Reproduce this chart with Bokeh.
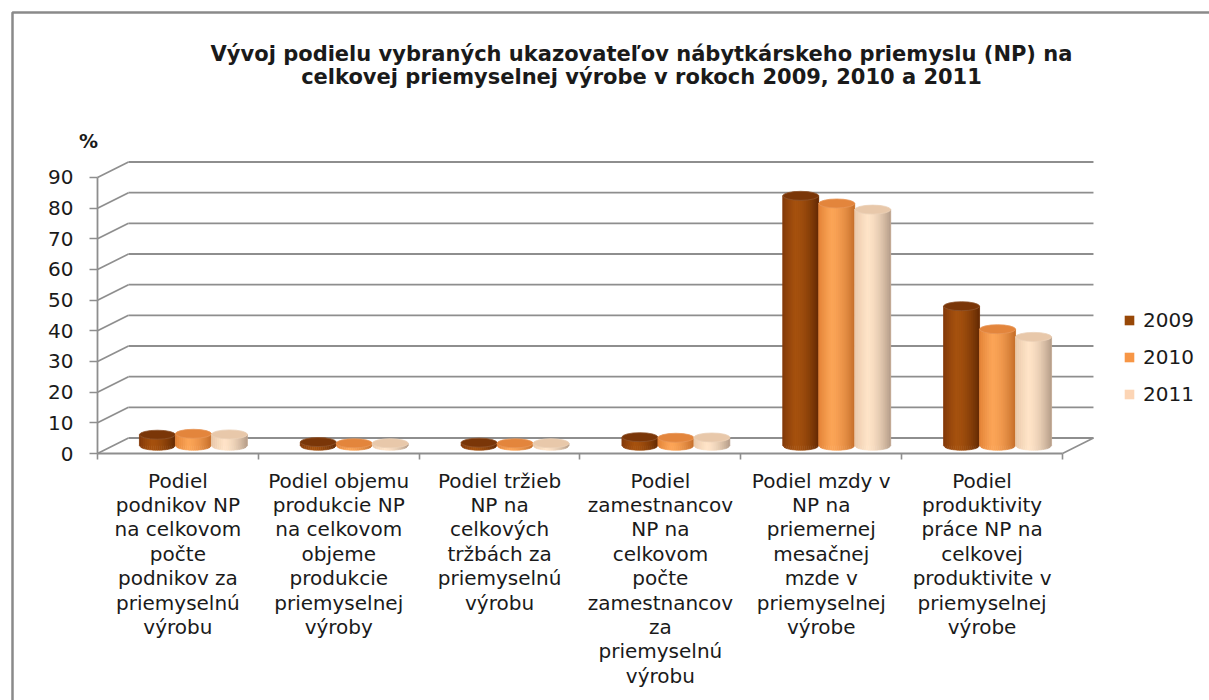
import numpy as np
from bokeh.plotting import figure
from bokeh.models import (Range1d, FixedTicker, LinearAxis, Legend, LegendItem,
                          ColumnDataSource)
from bokeh.core.properties import value
from bokeh.embed import file_html
from bokeh.resources import INLINE

# ---------------- data ----------------
categories = [
    "Podiel\npodnikov NP\nna celkovom\npočte\npodnikov za\npriemyselnú\nvýrobu",
    "Podiel objemu\nprodukcie NP\nna celkovom\nobjeme\nprodukcie\npriemyselnej\nvýroby",
    "Podiel tržieb\nNP na\ncelkových\ntržbách za\npriemyselnú\nvýrobu",
    "Podiel\nzamestnancov\nNP na\ncelkovom\npočte\nzamestnancov\nza\npriemyselnú\nvýrobu",
    "Podiel mzdy v\nNP na\npriemernej\nmesačnej\nmzde v\npriemyselnej\nvýrobe",
    "Podiel\nproduktivity\npráce NP na\ncelkovej\nproduktivite v\npriemyselnej\nvýrobe",
]
years = ["2009", "2010", "2011"]
values_2009 = [3.6, 1.2, 1.0, 2.8, 81.5, 45.5]
values_2010 = [3.9, 0.8, 0.8, 2.6, 79.0, 38.0]
values_2011 = [3.7, 0.8, 0.8, 2.7, 77.0, 35.5]
y_ticks = [0, 10, 20, 30, 40, 50, 60, 70, 80, 90]
title_lines = ["Vývoj podielu vybraných ukazovateľov nábytkárskeho priemyslu (NP) na",
               "celkovej priemyselnej výrobe v rokoch 2009, 2010 a 2011"]
unit_label = "%"

series = [values_2009, values_2010, values_2011]
legend_colors = ["#984807", "#F79646", "#FCD5B5"]
shade = [  # left edge, highlight, right edge, top face
    ("#80380A", "#A6520F", "#632904", "#7A3608"),
    ("#E08034", "#FCA558", "#C46E2A", "#E3853C"),
    ("#E6C6A8", "#FFE4C8", "#B49C88", "#E8C8AA"),
]

# ---------------- geometry (layout constants) ----------------
W, H = 1209, 700
PX_X = 160.83          # px per category
PX_Y = 3.0667          # px per value unit
ORIGIN_X = 97          # frame px of the front-left corner
ORIGIN_Y = 453         # frame px (from top) of value 0 on the front plane
x_start = -ORIGIN_X / PX_X
x_end = x_start + W / PX_X
y_end = ORIGIN_Y / PX_Y
y_start = y_end - H / PX_Y


def fx(px):
    return x_start + px / PX_X


def fy(py):
    return y_end - py / PX_Y


DX = 31 / PX_X         # depth offset of back wall
DY = 15.5 / PX_Y
BW = 36 / PX_X         # cylinder width
EB = 4.5 / PX_Y        # ellipse semi-height
ncat = len(categories)
FONT = value("DejaVu Sans")
GRID = "#8e8e8e"
TXT = "#1a1a1a"

p = figure(width=W, height=H, output_backend="svg", toolbar_location=None,
           x_range=Range1d(x_start, x_end), y_range=Range1d(y_start, y_end),
           x_axis_type=None, y_axis_type=None, min_border=0,
           min_border_left=0, min_border_right=0, min_border_top=0, min_border_bottom=0)
p.grid.visible = False
p.outline_line_color = None
p.background_fill_color = "white"
p.border_fill_color = "white"

# chart border (left & top)
p.line([fx(12), fx(12), x_end], [y_start, fy(12), fy(12)], line_color="#8a8a8a", line_width=2.5)

# back wall gridlines and left wall diagonals
p.segment(x0=[DX] * len(y_ticks), y0=[t + DY for t in y_ticks],
          x1=[ncat + DX] * len(y_ticks), y1=[t + DY for t in y_ticks],
          line_color=GRID, line_width=1.8)
p.segment(x0=[0] * len(y_ticks), y0=y_ticks, x1=[DX] * len(y_ticks),
          y1=[t + DY for t in y_ticks], line_color=GRID, line_width=1.6)
# floor right edge
p.segment(x0=[ncat], y0=[0], x1=[ncat + DX], y1=[DY], line_color=GRID, line_width=1.6)


def h2r(h):
    h = h.lstrip("#")
    return np.array([int(h[i:i + 2], 16) for i in (0, 2, 4)], dtype=float)


def mix(a, b, s):
    c = h2r(a) * (1 - s) + h2r(b) * s
    return "#%02x%02x%02x" % tuple(int(round(v)) for v in c)


def strip_color(t, left, hi, right):
    if t < 0.35:
        s = (t / 0.35) ** 0.8
        return mix(left, hi, s)
    s = ((t - 0.35) / 0.65) ** 1.7
    return mix(hi, right, s)


NS = 18
legend_items = []
for k, vals in enumerate(series):
    left, hi, right, topc = shade[k]
    cx = [i + 0.5 + DX / 2 + (k - 1) * BW for i in range(ncat)]
    base = DY / 2
    tops = [v + DY / 2 for v in vals]
    # flat body (legend colour), covered by shaded strips
    r = p.quad(left=[c - BW / 2 for c in cx], right=[c + BW / 2 for c in cx],
               bottom=[base] * ncat, top=tops, fill_color=legend_colors[k], line_color=None)
    legend_items.append(LegendItem(label=years[k], renderers=[r]))
    xs, ys, cols = [], [], []
    for c, tp in zip(cx, tops):
        for j in range(NS):
            u0 = -1 + 2 * j / NS
            u1 = -1 + 2 * (j + 1) / NS
            x0 = c + u0 * BW / 2
            x1 = c + u1 * BW / 2
            yb0 = base - EB * np.sqrt(max(0.0, 1 - u0 * u0))
            yb1 = base - EB * np.sqrt(max(0.0, 1 - u1 * u1))
            xs.append([x0, x1, x1, x0])
            ys.append([yb0, yb1, tp, tp])
            cols.append(strip_color((j + 0.5) / NS, left, hi, right))
    src = ColumnDataSource(dict(xs=xs, ys=ys, c=cols))
    p.patches("xs", "ys", source=src, fill_color="c", line_color="c", line_width=0.6)
    p.ellipse(x=cx, y=tops, width=BW, height=2 * EB, fill_color=topc,
              line_color=mix(topc, "#ffffff", 0.15), line_width=0.8)

# axes
yax = LinearAxis(fixed_location=0, bounds=(0, 90), ticker=FixedTicker(ticks=y_ticks))
yax.axis_line_color = GRID
yax.axis_line_width = 1.8
yax.major_tick_line_color = GRID
yax.major_tick_line_width = 1.6
yax.major_tick_out = 8
yax.major_tick_in = 0
yax.minor_tick_out = 0
yax.minor_tick_in = 0
yax.major_label_standoff = 16
yax.major_label_text_font = "DejaVu Sans"
yax.major_label_text_font_size = "20px"
yax.major_label_text_color = TXT
p.add_layout(yax, "left")

xax = LinearAxis(fixed_location=0, bounds=(0, ncat), ticker=FixedTicker(ticks=list(range(ncat + 1))))
xax.axis_line_color = GRID
xax.axis_line_width = 1.8
xax.major_tick_line_color = GRID
xax.major_tick_line_width = 1.6
xax.major_tick_out = 6
xax.major_tick_in = 0
xax.minor_tick_out = 0
xax.minor_tick_in = 0
xax.major_label_text_color = None
p.add_layout(xax, "below")

# category labels
p.text(x=[i + 0.5 for i in range(ncat)], y=[-15 / PX_Y] * ncat, text=categories,
       text_align="center", text_baseline="top", text_font=FONT, text_font_size="20px",
       text_line_height=1.017, text_color=TXT)

# title
p.text(x=[fx(641)] * 2, y=[fy(53), fy(76)], text=title_lines, text_align="center",
       text_baseline="alphabetic", text_font=FONT, text_font_style="bold",
       text_font_size="21px", text_color=TXT)
# unit
p.text(x=[fx(88)], y=[fy(140)], text=[unit_label], text_align="center",
       text_baseline="alphabetic", text_font=FONT, text_font_style="bold",
       text_font_size="19px", text_color=TXT)

legend = Legend(items=legend_items, location=(1123, 294), orientation="vertical",
                glyph_width=12, glyph_height=12, label_text_font="DejaVu Sans",
                label_text_font_size="20px", label_text_color=TXT, label_standoff=8,
                spacing=13, padding=0, margin=0, border_line_color=None,
                background_fill_alpha=0)
p.add_layout(legend)

open("out.html", "w").write(file_html(p, INLINE))
